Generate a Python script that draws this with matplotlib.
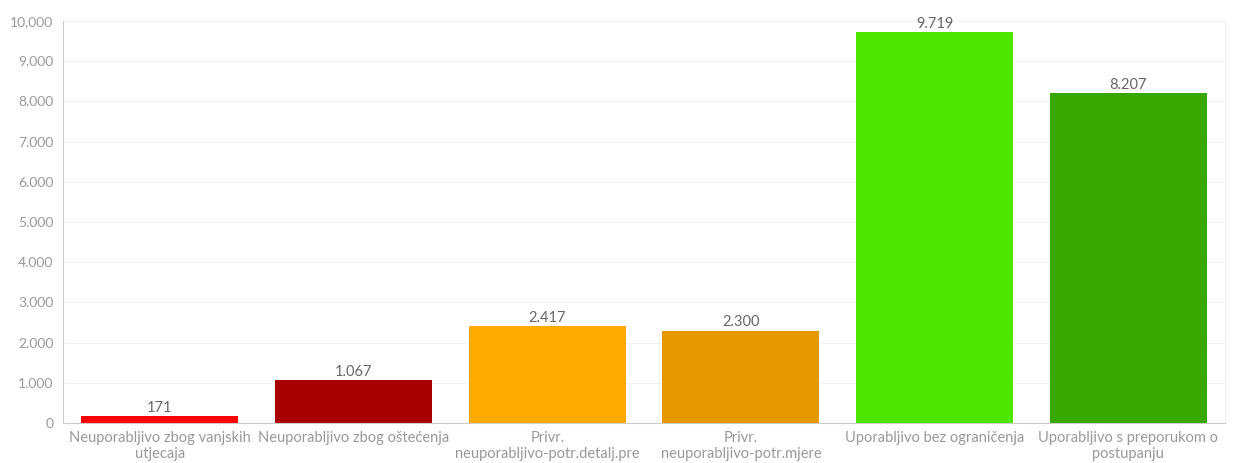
import matplotlib
matplotlib.use('Agg')
import matplotlib.pyplot as plt

categories = [
    'Neuporabljivo zbog vanjskih\nutjecaja',
    'Neuporabljivo zbog oštećenja',
    'Privr.\nneuporabljivo-potr.detalj.pre',
    'Privr.\nneuporabljivo-potr.mjere',
    'Uporabljivo bez ograničenja',
    'Uporabljivo s preporukom o\npostupanju',
]
values = [171, 1067, 2417, 2300, 9719, 8207]
value_labels = ['171', '1.067', '2.417', '2.300', '9.719', '8.207']
colors = ['#ff0000', '#a80000', '#ffaa00', '#e69800', '#4ce600', '#38a800']
y_ticks = [0, 1000, 2000, 3000, 4000, 5000, 6000, 7000, 8000, 9000, 10000]
y_tick_labels = ['0', '1.000', '2.000', '3.000', '4.000', '5.000', '6.000',
                 '7.000', '8.000', '9.000', '10,000']

plt.rcParams['font.family'] = ['Lato', 'DejaVu Sans']

fig = plt.figure(figsize=(12.35, 4.63), dpi=100)
ax = fig.add_axes([0.051, 0.0864, 0.941, 0.868])

x = list(range(len(values)))
ax.bar(x, values, width=0.81, color=colors, zorder=2)
for xi, v, lab in zip(x, values, value_labels):
    ax.text(xi, v + 30, lab, ha='center', va='bottom', fontsize=10.5, color='#666666')

ax.set_xlim(-0.5, len(values) - 0.5)
ax.set_ylim(0, 10000)
ax.set_yticks(y_ticks)
ax.set_yticklabels(y_tick_labels)
ax.set_xticks(x)
ax.set_xticklabels(categories, linespacing=1.15)
ax.tick_params(axis='y', length=0, pad=7, labelsize=10, labelcolor='#999999')
ax.tick_params(axis='x', length=0, pad=6, labelsize=10.5, labelcolor='#999999')

ax.grid(axis='y', color='#f2f2f2', linewidth=0.8, zorder=0)
ax.spines['top'].set_visible(False)
ax.spines['right'].set_color('#f2f2f2')
ax.spines['left'].set_color('#cccccc')
ax.spines['bottom'].set_color('#cccccc')

fig.savefig('out.png', dpi=100, facecolor='white')
